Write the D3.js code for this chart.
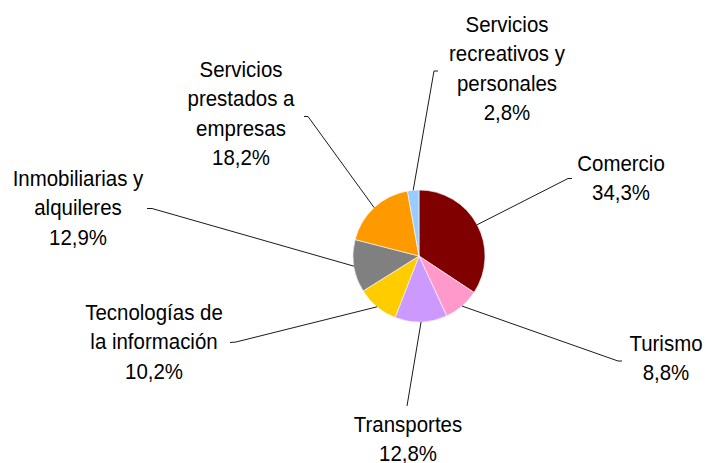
<!DOCTYPE html>
<html>
<head>
<meta charset="utf-8">
<script src="https://cdn.jsdelivr.net/npm/d3@7"></script>
<style>
  html, body { margin: 0; padding: 0; background: #fff; }
  svg { display: block; }
</style>
</head>
<body>
<div id="chart"></div>
<script>
// sectores (orden horario desde las 12)
const CATEGORIES = [
  ['Comercio'],
  ['Turismo'],
  ['Transportes'],
  ['Tecnologías de', 'la información'],
  ['Inmobiliarias y', 'alquileres'],
  ['Servicios', 'prestados a', 'empresas'],
  ['Servicios', 'recreativos y', 'personales']
];
const VALUES = [34.3, 8.8, 12.8, 10.2, 12.9, 18.2, 2.8];
const COLORS = ['#800000', '#FF99CC', '#CC99FF', '#FFCC00', '#808080', '#FF9900', '#99CCFF'];

// label placement (manual, as in the original spreadsheet chart)
const LABEL_XY = [[621, 171], [666, 351], [408, 432], [154, 320], [78, 186], [241, 77], [507, 32]];
const LEADER_ELBOW = [[568, 178.5], [618, 361], [407, 406], [236, 342], [152, 208.5], [308, 116.5], [434, 71]];
const LEADER_END = [[572, 178.5], [622, 361], [407, 406], [230, 342.5], [147, 208.5], [304, 116.5], [438, 71]];

const W = 706, H = 463;
const cx = 419, cy = 256, R = 66;
const LINE_H = 29.5;

const fmt = d3.formatLocale({ decimal: ',', thousands: '.', grouping: [3], currency: ['', '€'] }).format('.1f');

const svg = d3.select('#chart').append('svg')
  .attr('width', W).attr('height', H);

const data = VALUES.map((v, i) => ({ i, value: v }));
const pie = d3.pie().value(d => d.value).sort(null).startAngle(0).endAngle(2 * Math.PI);
const arcs = pie(data);
const arc = d3.arc().innerRadius(0).outerRadius(R);
const edge = d3.arc().innerRadius(R).outerRadius(R);

const g = svg.append('g').attr('transform', `translate(${cx},${cy})`);
g.selectAll('path.slice')
  .data(arcs).join('path').attr('class', 'slice')
  .attr('d', arc)
  .attr('fill', d => COLORS[d.data.i])
  .attr('stroke', '#fff').attr('stroke-width', 0.6);

// leader lines
const line = d3.line();
svg.append('g').selectAll('path')
  .data(arcs).join('path')
  .attr('fill', 'none')
  .attr('stroke', '#1a1a1a').attr('stroke-width', 1)
  .attr('d', d => {
    const [sx, sy] = edge.centroid(d);
    return line([[cx + sx, cy + sy], LEADER_ELBOW[d.data.i], LEADER_END[d.data.i]]);
  });

// labels
const lab = svg.append('g').selectAll('g')
  .data(arcs).join('g')
  .attr('transform', d => `translate(${LABEL_XY[d.data.i][0]},${LABEL_XY[d.data.i][1]}) scale(0.93,1)`)
  .attr('font-family', '"Liberation Sans", Arial, sans-serif')
  .attr('font-size', 22)
  .attr('fill', '#000')
  .attr('text-anchor', 'middle');

lab.selectAll('text')
  .data(d => CATEGORIES[d.data.i].concat([fmt(d.data.value) + '%']))
  .join('text')
  .attr('x', 0)
  .attr('y', (t, j) => j * LINE_H)
  .text(t => t);
</script>
</body>
</html>
